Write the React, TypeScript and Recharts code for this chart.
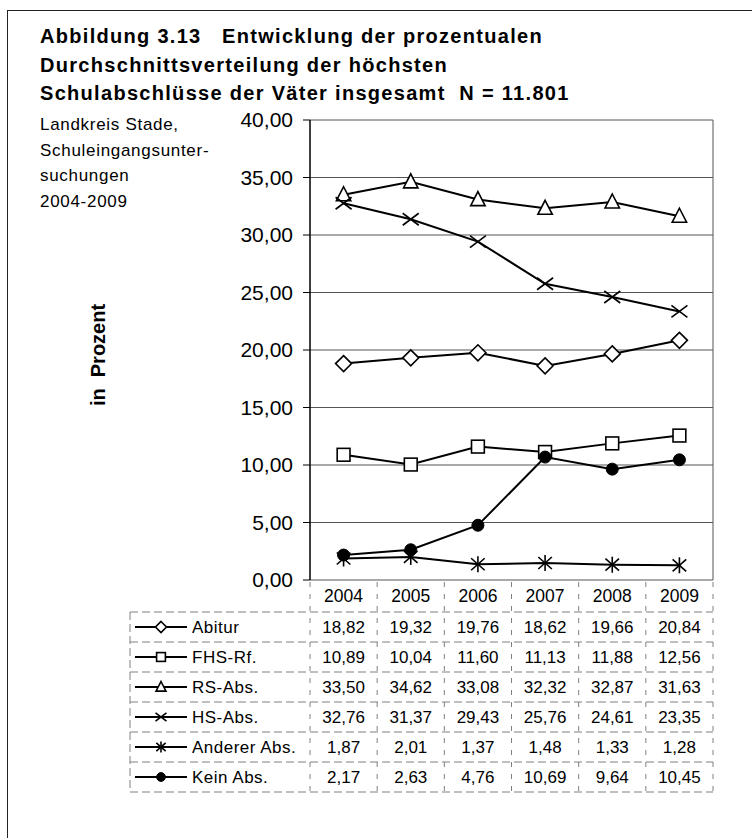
import React from 'react';
import { LineChart, Line, XAxis, YAxis, CartesianGrid } from 'recharts';

const years = ['2004', '2005', '2006', '2007', '2008', '2009'];
const seriesNames = ['Abitur', 'FHS-Rf.', 'RS-Abs.', 'HS-Abs.', 'Anderer Abs.', 'Kein Abs.'];
const abitur = [18.82, 19.32, 19.76, 18.62, 19.66, 20.84];
const fhs = [10.89, 10.04, 11.6, 11.13, 11.88, 12.56];
const rs = [33.5, 34.62, 33.08, 32.32, 32.87, 31.63];
const hs = [32.76, 31.37, 29.43, 25.76, 24.61, 23.35];
const anderer = [1.87, 2.01, 1.37, 1.48, 1.33, 1.28];
const kein = [2.17, 2.63, 4.76, 10.69, 9.64, 10.45];
const yTicks = [0, 5, 10, 15, 20, 25, 30, 35, 40];

const titleLines = [
  'Abbildung 3.13   Entwicklung der prozentualen',
  'Durchschnittsverteilung der höchsten',
  'Schulabschlüsse der Väter insgesamt  N = 11.801',
];
const noteLines = ['Landkreis Stade,', 'Schuleingangsunter-', 'suchungen', '2004-2009'];

const seriesValues = [abitur, fhs, rs, hs, anderer, kein];
const markers = ['diamond', 'square', 'triangle', 'cross', 'star', 'circle'];

const data = years.map((year, i) => {
  const row: any = { year };
  seriesNames.forEach((name, s) => {
    row[name] = seriesValues[s][i];
  });
  return row;
});

const FONT = '"Liberation Sans", Arial, sans-serif';
const de = (v: number) => v.toFixed(2).replace('.', ',');

// chart box
const CH_LEFT = 180;
const CH_TOP = 100;
const CH_W = 540;
const CH_H = 500;
const Y_W = 130;
const M_RIGHT = 7;
const M_TOP = 20;
const M_BOTTOM = 20;
const plotLeft = CH_LEFT + Y_W;
const plotRight = CH_LEFT + CH_W - M_RIGHT;
const plotBottom = CH_TOP + CH_H - M_BOTTOM;

function Marker({ type, cx, cy, s }: { type: string; cx: number; cy: number; s: number }) {
  const h = s / 2;
  const common = { stroke: '#000', strokeWidth: 1.6 };
  if (type === 'diamond')
    return <polygon points={`${cx},${cy - h} ${cx + h},${cy} ${cx},${cy + h} ${cx - h},${cy}`} fill="#fff" {...common} />;
  if (type === 'square')
    return <rect x={cx - h * 0.8} y={cy - h * 0.8} width={s * 0.8} height={s * 0.8} fill="#fff" {...common} />;
  if (type === 'triangle')
    return <polygon points={`${cx},${cy - h} ${cx + h * 0.9},${cy + h * 0.75} ${cx - h * 0.9},${cy + h * 0.75}`} fill="#fff" {...common} />;
  if (type === 'cross')
    return (
      <g {...common}>
        <line x1={cx - h} y1={cy - h * 0.75} x2={cx + h} y2={cy + h * 0.75} />
        <line x1={cx - h} y1={cy + h * 0.75} x2={cx + h} y2={cy - h * 0.75} />
      </g>
    );
  if (type === 'star')
    return (
      <g {...common}>
        <line x1={cx - h * 0.85} y1={cy - h * 0.75} x2={cx + h * 0.85} y2={cy + h * 0.75} />
        <line x1={cx - h * 0.85} y1={cy + h * 0.75} x2={cx + h * 0.85} y2={cy - h * 0.75} />
        <line x1={cx} y1={cy - h} x2={cx} y2={cy + h} />
      </g>
    );
  return <circle cx={cx} cy={cy} r={h * 0.8} fill="#000" stroke="#000" />;
}

function ValueTable() {
  const colW = (plotRight - plotLeft) / years.length;
  const tableLeft = 130;
  const headTop = plotBottom;
  const bodyTop = 612;
  const rowH = 30;
  const bottom = bodyTop + rowH * seriesNames.length;
  const dash = { stroke: '#808080', strokeWidth: 1, strokeDasharray: '8 4' };
  return (
    <svg width={752} height={838} style={{ position: 'absolute', left: 0, top: 0, pointerEvents: 'none' }}>
      {years.map((y, i) => (
        <text key={y} x={plotLeft + colW * (i + 0.5)} y={headTop + 22} textAnchor="middle" fontSize={17.5} fontFamily={FONT} fill="#000">
          {y}
        </text>
      ))}
      {years.concat(['']).map((_, i) => (
        <line key={`v${i}`} x1={plotLeft + colW * i} y1={headTop + 2} x2={plotLeft + colW * i} y2={bottom} stroke="#808080" strokeWidth={1} strokeDasharray="5 7" />
      ))}
      <line x1={tableLeft} y1={bodyTop} x2={tableLeft} y2={bottom} {...dash} />
      {seriesNames.concat(['']).map((_, r) => (
        <line key={`h${r}`} x1={tableLeft} y1={bodyTop + rowH * r} x2={plotRight} y2={bodyTop + rowH * r} {...dash} />
      ))}
      {seriesNames.map((name, r) => {
        const cy = bodyTop + rowH * (r + 0.5);
        return (
          <g key={name}>
            <line x1={135} y1={cy} x2={187} y2={cy} stroke="#000" strokeWidth={2} />
            <Marker type={markers[r]} cx={161} cy={cy} s={11} />
            <text x={192} y={cy + 6} fontSize={17} fontFamily={FONT} letterSpacing={0.5} fill="#000">
              {name}
            </text>
            {seriesValues[r].map((v, i) => (
              <text key={i} x={plotLeft + colW * (i + 0.5)} y={cy + 6} textAnchor="middle" fontSize={17} fontFamily={FONT} fill="#000">
                {de(v)}
              </text>
            ))}
          </g>
        );
      })}
    </svg>
  );
}

export default function App() {
  return (
    <div style={{ position: 'absolute', left: 0, top: 0, width: 752, height: 838, overflow: 'hidden', background: '#fff', fontFamily: FONT }}>
      <div style={{ position: 'absolute', left: 7, top: 10, width: 800, height: 900, border: '1.5px solid #222', boxSizing: 'border-box' }} />
      {titleLines.map((t, i) => (
        <div
          key={i}
          style={{ position: 'absolute', left: 40, top: 24 + i * 28.5, fontSize: 20, fontWeight: 'bold', letterSpacing: 1.3, whiteSpace: 'pre', lineHeight: '24px' }}
        >
          {t}
        </div>
      ))}
      {noteLines.map((t, i) => (
        <div key={i} style={{ position: 'absolute', left: 40, top: 114 + i * 25.5, fontSize: 17, letterSpacing: 0.7, whiteSpace: 'pre', lineHeight: '22px' }}>
          {t}
        </div>
      ))}
      <div
        style={{
          position: 'absolute',
          left: 98,
          top: 355,
          transform: 'translate(-50%, -50%) rotate(-90deg)',
          fontSize: 20,
          fontWeight: 'bold',
          whiteSpace: 'pre',
        }}
      >
        {'in  Prozent'}
      </div>
      <div style={{ position: 'absolute', left: CH_LEFT, top: CH_TOP }}>
        <LineChart width={CH_W} height={CH_H} data={data} margin={{ top: M_TOP, right: M_RIGHT, bottom: M_BOTTOM, left: 0 }}>
          <CartesianGrid
            stroke="#555"
            strokeWidth={1}
            horizontal={true}
            vertical={true}
            verticalCoordinatesGenerator={({ offset }: any) => [offset.left + offset.width]}
          />
          <XAxis dataKey="year" scale="band" height={0} tick={false} tickLine={false} axisLine={{ stroke: '#000', strokeWidth: 1.5 }} />
          <YAxis
            domain={[0, 40]}
            ticks={yTicks}
            width={Y_W}
            tickSize={7}
            tickMargin={10}
            tickFormatter={de}
            tick={{ fontSize: 21, fill: '#000', fontFamily: FONT }}
            axisLine={{ stroke: '#000', strokeWidth: 1.5 }}
            tickLine={{ stroke: '#000' }}
          />
          {seriesNames.map((name, s) => (
            <Line
              key={name}
              dataKey={name}
              stroke="#000"
              strokeWidth={2}
              isAnimationActive={false}
              dot={(p: any) => (
                <g key={`${name}-${p.index}`}>
                  <Marker type={markers[s]} cx={p.cx} cy={p.cy} s={s === 5 ? 15 : 16} />
                </g>
              )}
              activeDot={false}
            />
          ))}
        </LineChart>
      </div>
      <ValueTable />
    </div>
  );
}
